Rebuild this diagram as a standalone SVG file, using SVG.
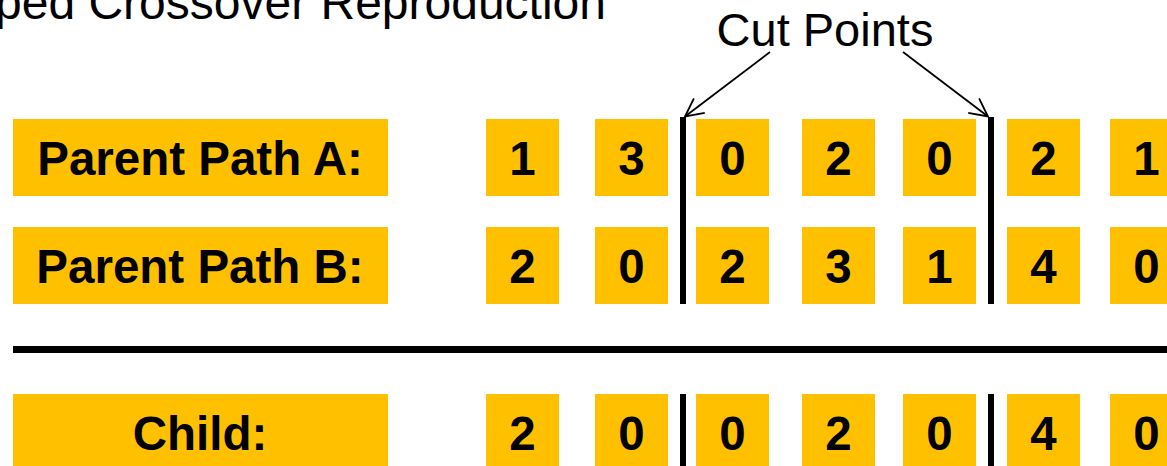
<svg xmlns="http://www.w3.org/2000/svg" width="1167" height="466" viewBox="0 0 1167 466">
<defs>
<style>
.box{fill:#FFC000}
.lbl{font-family:"Liberation Sans",Arial,sans-serif;font-weight:bold;font-size:47.5px;fill:#000;text-anchor:middle}
.plain{font-family:"Liberation Sans",Arial,sans-serif;font-size:47px;fill:#000}
.bar{fill:#000}
.arrow{stroke:#000;stroke-width:1.8;fill:none}
</style>
<marker id="open" markerUnits="userSpaceOnUse" markerWidth="24" markerHeight="24" viewBox="-22 -12 24 24" refX="0" refY="0" orient="auto">
<path d="M-18,-9 L0,0 L-18,9" fill="none" stroke="#000" stroke-width="1.8"/>
</marker>
</defs>
<rect width="1167" height="466" fill="#fff"/>
<text class="plain" x="-5" y="19" style="font-size:48px">ped Crossover Reproduction</text>
<g id="cut-points">
<text class="plain" x="825" y="46" text-anchor="middle">Cut Points</text>
</g>
<g id="connectors">
<line class="arrow" x1="770" y1="52" x2="685" y2="116.5" marker-end="url(#open)"/>
<line class="arrow" x1="903" y1="52" x2="988" y2="116.5" marker-end="url(#open)"/>
</g>
<g id="label-a"><rect class="box" x="13" y="119" width="375" height="77"/><text class="lbl" x="200" y="175">Parent Path A:</text></g>
<g id="label-b"><rect class="box" x="13" y="227" width="375" height="77"/><text class="lbl" x="200" y="283">Parent Path B:</text></g>
<g id="label-child"><rect class="box" x="13" y="394" width="375" height="77"/><text class="lbl" x="200" y="450">Child:</text></g>
<g id="row-a">
<rect class="box" x="486" y="119" width="73" height="77"/><text class="lbl" x="522.5" y="175">1</text>
<rect class="box" x="595" y="119" width="73" height="77"/><text class="lbl" x="631.5" y="175">3</text>
<rect class="box" x="696" y="119" width="73" height="77"/><text class="lbl" x="732.5" y="175">0</text>
<rect class="box" x="802" y="119" width="73" height="77"/><text class="lbl" x="838.5" y="175">2</text>
<rect class="box" x="903" y="119" width="73" height="77"/><text class="lbl" x="939.5" y="175">0</text>
<rect class="box" x="1007" y="119" width="73" height="77"/><text class="lbl" x="1043.5" y="175">2</text>
<rect class="box" x="1110" y="119" width="73" height="77"/><text class="lbl" x="1146.5" y="175">1</text>
</g>
<g id="row-b">
<rect class="box" x="486" y="227" width="73" height="77"/><text class="lbl" x="522.5" y="283">2</text>
<rect class="box" x="595" y="227" width="73" height="77"/><text class="lbl" x="631.5" y="283">0</text>
<rect class="box" x="696" y="227" width="73" height="77"/><text class="lbl" x="732.5" y="283">2</text>
<rect class="box" x="802" y="227" width="73" height="77"/><text class="lbl" x="838.5" y="283">3</text>
<rect class="box" x="903" y="227" width="73" height="77"/><text class="lbl" x="939.5" y="283">1</text>
<rect class="box" x="1007" y="227" width="73" height="77"/><text class="lbl" x="1043.5" y="283">4</text>
<rect class="box" x="1110" y="227" width="73" height="77"/><text class="lbl" x="1146.5" y="283">0</text>
</g>
<g id="row-child">
<rect class="box" x="486" y="394" width="73" height="77"/><text class="lbl" x="522.5" y="450">2</text>
<rect class="box" x="595" y="394" width="73" height="77"/><text class="lbl" x="631.5" y="450">0</text>
<rect class="box" x="696" y="394" width="73" height="77"/><text class="lbl" x="732.5" y="450">0</text>
<rect class="box" x="802" y="394" width="73" height="77"/><text class="lbl" x="838.5" y="450">2</text>
<rect class="box" x="903" y="394" width="73" height="77"/><text class="lbl" x="939.5" y="450">0</text>
<rect class="box" x="1007" y="394" width="73" height="77"/><text class="lbl" x="1043.5" y="450">4</text>
<rect class="box" x="1110" y="394" width="73" height="77"/><text class="lbl" x="1146.5" y="450">0</text>
</g>
<g id="dividers">
<rect class="bar" x="680" y="117" width="6" height="187"/>
<rect class="bar" x="988" y="117" width="6" height="187"/>
<rect class="bar" x="680" y="394" width="6" height="72"/>
<rect class="bar" x="988" y="394" width="6" height="72"/>
<rect class="bar" x="13" y="346" width="1160" height="7"/>
</g>
</svg>
